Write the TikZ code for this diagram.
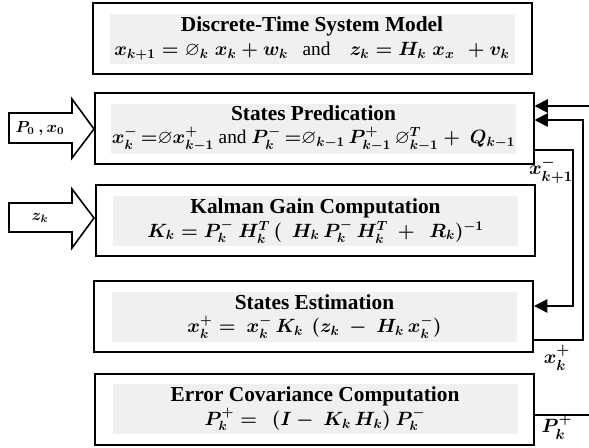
\documentclass[tikz,border=0pt]{standalone}
\usepackage{amssymb}
\usepackage{fontspec}
\setmainfont{Liberation Serif}
\usetikzlibrary{arrows.meta,calc}
\tikzset{
  box/.style={draw=black, line width=1.5pt, minimum width=329.25pt, minimum height=53.25pt, inner sep=0pt},
  graybg/.style={fill=black!6, draw=none, minimum width=303.75pt, minimum height=37.5pt, inner sep=0pt, align=center,
    font=\fontsize{16}{16.5}\selectfont\bfseries\boldmath},
  conn/.style={line width=1.3pt, draw=black},
  tip/.style={-{Triangle[length=10pt,width=10pt]}},
  blockarrow/.style={draw=black, line width=1.2pt, fill=white},
  lbl/.style={font=\fontsize{15}{17}\selectfont\boldmath, inner sep=0pt},
  inlbl/.style={font=\fontsize{11.5}{13}\selectfont\boldmath, inner sep=0pt}
}
\newcommand{\eqf}{\fontsize{14.5}{16.5}\selectfont}
\newcommand{\andw}{\ \ \ {\mdseries and}\ \ \ \ }
\begin{document}
\begin{tikzpicture}[x=0.75pt,y=-0.75pt]
\useasboundingbox (0,0) rectangle (589,447);
% boxes
\node[box] (b1) at (312.5,38.5) {};
\node[box] (b2) at (314,128) {};
\node[box] (b3) at (315,220.5) {};
\node[box] (b4) at (313.5,316.5) {};
\node[box] (b5) at (314,409) {};
% gray text panels
\node[graybg] (g1) at (312,38.5) {Discrete-Time System Model\\[1pt]
  {\eqf$x_{k+1} = \varnothing_k\; x_k + w_k$\andw$z_k = H_k\; x_x\ \, + v_k$}};
\node[graybg] (g2) at (313.5,128.5) {States Predication\\[1pt]
  {\eqf$x_k^-\,{=}\varnothing x_{k-1}^+$ {\mdseries and} $P_k^-\,{=}\varnothing_{k-1}\, P_{k-1}^+\, \varnothing_{k-1}^T +\ Q_{k-1}$}};
\node[graybg] (g3) at (315.5,221) {Kalman Gain Computation\\[1pt]
  {\eqf$K_k = P_k^-\ H_k^T\,(\ \ H_k\, P_k^-\, H_k^T\ +\ \ R_k)^{-1}$}};
\node[graybg] (g4) at (314.5,316.5) {States Estimation\\[1pt]
  {\eqf$x_k^+ =\ x_k^-\, K_k\ \,(z_k\ -\ H_k\, x_k^-)$}};
\node[graybg] (g5) at (315,409) {Error Covariance Computation\\[1pt]
  {\eqf$P_k^+ =\ \,(I -\ K_k\, H_k)\ P_k^-$}};
% block input arrows
\draw[blockarrow] (9,113) -- (72,113) -- (72,99) -- (94,129) -- (72,158) -- (72,143) -- (9,143) -- cycle;
\node[inlbl] (in1) at (40,128.5) {$P_0\ ,x_0$};
\draw[blockarrow] (9,203) -- (72,203) -- (72,189) -- (94,218) -- (72,248) -- (72,232) -- (9,232) -- cycle;
\node[inlbl] (in2) at (40,218) {$z_k$};
% feedback connectors
\coordinate (r1) at (589,106);
\draw[conn,tip] (r1) -- (r1 -| b2.east);
\coordinate (c1) at (573,150);
\coordinate (c2) at (573,306);
\draw[conn,tip] (b2.east |- c1) -- (c1) -- (c2) -- (c2 -| b4.east);
\coordinate (d1) at (583,340);
\coordinate (d2) at (583,120);
\draw[conn,tip] (b4.east |- d1) -- (d1) -- (d2) -- (d2 -| b2.east);
\coordinate (e1) at (589,415);
\draw[conn] (b5.east |- e1) -- (e1);
% labels
\node[lbl] (l1) at (551,170) {$x_{k+1}^-$};
\node[lbl] (l2) at (557,358) {$x_k^+$};
\node[lbl] (l3) at (557,427) {$P_k^+$};
\end{tikzpicture}
\end{document}
